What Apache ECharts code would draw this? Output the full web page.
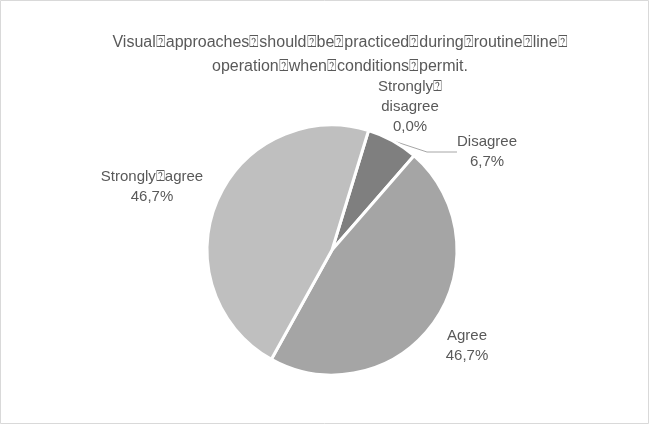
<!DOCTYPE html>
<html><head><meta charset="utf-8">
<script src="https://cdn.jsdelivr.net/npm/echarts@6/dist/echarts.min.js"></script>
<style>html,body{margin:0;padding:0;background:#fff}#c{width:649px;height:424px}</style>
</head><body><div id="c"></div>
<script>
const TITLE = 'Visual\u2370approaches\u2370should\u2370be\u2370practiced\u2370during\u2370routine\u2370line\u2370\noperation\u2370when\u2370conditions\u2370permit.';
const categories = ['Strongly disagree', 'Disagree', 'Agree', 'Strongly agree'];
const labelNames = ['Strongly\u2370\ndisagree', 'Disagree', 'Agree', 'Strongly\u2370agree'];
const values = [0, 1, 7, 7];
const colors = ['#595959', '#7f7f7f', '#a5a5a5', '#bfbfbf'];
const labelPos = [[410, 77], [487, 132], [467, 326], [152, 167]];

const total = values.reduce((a, b) => a + b, 0);
const chart = echarts.init(document.getElementById('c'), null, {renderer: 'canvas'});
const FONT = '"Liberation Sans", Arial, sans-serif';
chart.setOption({
  animation: false,
  backgroundColor: '#fff',
  graphic: [{type: 'rect', shape: {x: 0.5, y: 0.5, width: 648, height: 423}, style: {fill: 'none', stroke: '#d9d9d9', lineWidth: 1}}],
  title: {
    text: TITLE, left: 335, top: 26, textAlign: 'center',
    textStyle: {fontFamily: FONT, fontSize: 16, fontWeight: 'normal', color: '#595959', lineHeight: 24}
  },
  series: [{
    type: 'pie',
    center: [332, 250],
    radius: [0, 125],
    startAngle: 73,
    clockwise: true,
    itemStyle: {borderColor: '#fff', borderWidth: 3},
    label: {
      show: true, position: 'outside', fontFamily: FONT, fontSize: 15, color: '#595959',
      lineHeight: 20, align: 'center',
      formatter: p => labelNames[p.dataIndex] + '\n' + (p.value / total * 100).toFixed(1).replace('.', ',') + '%'
    },
    labelLine: {show: false, lineStyle: {color: '#a6a6a6', width: 1}},
    labelLayout: p => ({x: labelPos[p.dataIndex][0], y: labelPos[p.dataIndex][1], align: 'center', verticalAlign: 'top'}),
    data: categories.map((c, i) => ({
      name: c, value: values[i], itemStyle: {color: colors[i]},
      labelLine: i === 1 ? {show: true, length: 10, length2: 30} : {show: false}
    }))
  }]
});
</script></body></html>
